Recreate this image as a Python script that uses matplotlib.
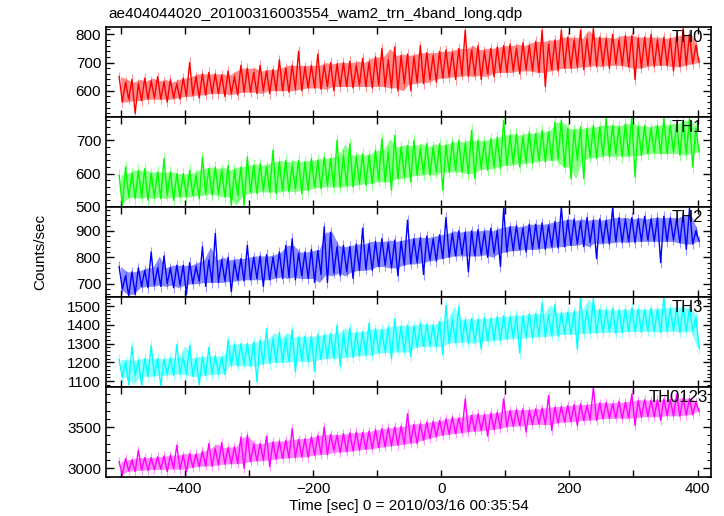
import numpy as np
import matplotlib
matplotlib.use("Agg")
import matplotlib.pyplot as plt
from matplotlib.ticker import MultipleLocator

plt.rcParams['font.family'] = ['Liberation Sans', 'DejaVu Sans']

# bin centres [sec], 10 s bins
time = list(range(-500, 401, 10))

# upper / lower excursion of the count rate inside each bin
th0_hi = [650, 630, 640, 625, 645, 635, 650, 630, 640, 625,
          645, 700, 650, 660, 665, 660, 655, 670, 650, 690,
          680, 665, 690, 670, 675, 710, 680, 690, 740, 685,
          690, 730, 690, 700, 695, 700, 705, 690, 715, 700,
          720, 750, 710, 755, 725, 730, 720, 760, 735, 725,
          740, 745, 735, 750, 815, 745, 760, 740, 750, 755,
          760, 765, 750, 770, 760, 775, 815, 765, 780, 815,
          790, 780, 815, 785, 820, 790, 785, 800, 780, 795,
          795, 785, 790, 800, 780, 790, 785, 795, 820, 800, 760]
th0_lo = [560, 570, 520, 565, 570, 575, 570, 560, 575, 570,
          580, 585, 575, 585, 590, 590, 580, 590, 585, 595,
          595, 590, 600, 590, 600, 600, 595, 605, 600, 610,
          610, 605, 615, 600, 615, 615, 610, 620, 615, 610,
          620, 615, 610, 600, 625, 600, 630, 625, 640, 630,
          645, 650, 640, 655, 650, 655, 640, 660, 650, 665,
          665, 670, 660, 675, 670, 665, 615, 675, 670, 680,
          680, 685, 675, 690, 685, 690, 680, 695, 690, 685,
          640, 680, 690, 685, 690, 690, 670, 685, 690, 695, 700]

th1_hi = [595, 620, 600, 610, 615, 600, 605, 645, 605, 600,
          600, 610, 595, 650, 615, 620, 610, 625, 610, 620,
          650, 625, 630, 620, 670, 635, 640, 625, 640, 635,
          645, 640, 650, 645, 700, 655, 690, 650, 660, 655,
          670, 705, 665, 715, 680, 685, 700, 675, 690, 680,
          690, 685, 695, 700, 690, 730, 700, 695, 705, 710,
          760, 715, 720, 710, 725, 720, 730, 725, 755, 760,
          735, 730, 740, 735, 745, 740, 765, 745, 740, 750,
          770, 740, 745, 735, 745, 765, 745, 750, 760, 765, 735]
th1_lo = [505, 530, 525, 530, 520, 530, 525, 535, 520, 530,
          530, 535, 525, 540, 535, 540, 530, 505, 535, 505,
          545, 540, 550, 545, 540, 550, 545, 555, 540, 550,
          560, 555, 565, 560, 560, 565, 560, 570, 565, 570,
          580, 575, 550, 585, 590, 575, 595, 600, 595, 605,
          550, 605, 610, 605, 600, 585, 615, 610, 620, 615,
          625, 630, 620, 635, 630, 640, 635, 640, 645, 620,
          585, 640, 585, 650, 645, 655, 650, 660, 650, 655,
          590, 655, 660, 665, 660, 660, 665, 655, 660, 620, 665]

th2_hi = [765, 730, 745, 760, 750, 820, 760, 805, 760, 770,
          770, 780, 765, 840, 790, 890, 790, 800, 785, 795,
          845, 800, 805, 810, 800, 820, 845, 870, 815, 820,
          830, 825, 915, 895, 840, 845, 840, 850, 910, 850,
          860, 870, 855, 865, 860, 940, 870, 875, 880, 870,
          885, 950, 890, 900, 895, 900, 905, 895, 910, 900,
          985, 915, 920, 910, 925, 925, 930, 920, 935, 990,
          940, 945, 935, 950, 940, 945, 940, 985, 950, 945,
          950, 945, 955, 945, 950, 955, 950, 945, 960, 985, 900]
th2_lo = [680, 655, 660, 690, 685, 695, 690, 700, 685, 695,
          660, 700, 710, 690, 705, 705, 710, 670, 715, 710,
          715, 720, 690, 715, 725, 720, 725, 715, 730, 720,
          705, 735, 705, 740, 730, 745, 720, 750, 755, 750,
          765, 770, 760, 730, 770, 775, 780, 735, 790, 785,
          795, 800, 805, 810, 745, 805, 810, 800, 815, 765,
          820, 825, 830, 820, 830, 835, 830, 840, 835, 840,
          845, 850, 840, 855, 795, 855, 850, 860, 855, 860,
          855, 860, 865, 860, 780, 860, 865, 855, 830, 850, 860]

th3_hi = [1215, 1200, 1285, 1210, 1220, 1290, 1220, 1215, 1225, 1295,
          1225, 1290, 1220, 1230, 1280, 1235, 1225, 1320, 1295, 1300,
          1300, 1310, 1320, 1380, 1325, 1360, 1330, 1375, 1335, 1340,
          1340, 1350, 1345, 1355, 1400, 1355, 1385, 1360, 1365, 1410,
          1380, 1375, 1390, 1435, 1395, 1400, 1395, 1410, 1405, 1400,
          1420, 1505, 1430, 1500, 1425, 1435, 1430, 1440, 1435, 1445,
          1450, 1445, 1455, 1450, 1460, 1460, 1520, 1455, 1510, 1465,
          1470, 1475, 1545, 1480, 1540, 1485, 1480, 1490, 1480, 1485,
          1490, 1485, 1480, 1490, 1485, 1545, 1490, 1495, 1500, 1490, 1440]
th3_lo = [1120, 1080, 1130, 1080, 1125, 1130, 1075, 1135, 1130, 1140,
          1135, 1125, 1080, 1130, 1135, 1140, 1135, 1185, 1180, 1190,
          1180, 1095, 1190, 1195, 1200, 1200, 1205, 1150, 1210, 1205,
          1150, 1215, 1220, 1225, 1180, 1230, 1225, 1235, 1240, 1235,
          1250, 1255, 1220, 1260, 1255, 1230, 1280, 1285, 1290, 1285,
          1240, 1300, 1305, 1310, 1300, 1310, 1270, 1315, 1320, 1315,
          1325, 1330, 1250, 1335, 1330, 1340, 1335, 1345, 1340, 1350,
          1350, 1270, 1355, 1360, 1355, 1360, 1365, 1355, 1360, 1365,
          1365, 1360, 1370, 1365, 1360, 1365, 1370, 1360, 1365, 1370, 1275]

th0123_hi = [3080, 3120, 3100, 3220, 3130, 3130, 3140, 3150, 3160, 3280,
             3160, 3180, 3175, 3210, 3300, 3240, 3310, 3250, 3260, 3380,
             3400, 3290, 3300, 3390, 3320, 3330, 3340, 3480, 3350, 3360,
             3380, 3400, 3500, 3410, 3400, 3420, 3430, 3440, 3435, 3450,
             3470, 3480, 3490, 3500, 3510, 3660, 3530, 3540, 3560, 3570,
             3580, 3600, 3620, 3610, 3840, 3640, 3660, 3650, 3670, 3680,
             3840, 3700, 3710, 3720, 3700, 3720, 3730, 3880, 3740, 3750,
             3760, 3770, 3780, 3760, 3980, 3790, 3800, 3780, 3810, 3800,
             3900, 3820, 3830, 3825, 3830, 3840, 3835, 3900, 3850, 3845, 3800]
th0123_lo = [2920, 2970, 2960, 2980, 2975, 2985, 2990, 2960, 3000, 2990,
             2960, 3010, 3020, 3030, 3025, 3040, 3050, 3055, 3060, 3000,
             3080, 3090, 3100, 3020, 3110, 3120, 3125, 3130, 3140, 3135,
             3160, 3170, 3165, 3220, 3190, 3200, 3210, 3220, 3230, 3235,
             3250, 3260, 3270, 3280, 3290, 3310, 3300, 3340, 3360, 3380,
             3400, 3410, 3420, 3430, 3440, 3450, 3460, 3390, 3470, 3480,
             3500, 3510, 3520, 3440, 3530, 3540, 3530, 3460, 3550, 3560,
             3570, 3520, 3580, 3590, 3580, 3600, 3605, 3610, 3600, 3615,
             3520, 3620, 3630, 3625, 3580, 3640, 3635, 3630, 3645, 3650, 3690]

bands = ["TH0", "TH1", "TH2", "TH3", "TH0123"]
highs = [th0_hi, th1_hi, th2_hi, th3_hi, th0123_hi]
lows = [th0_lo, th1_lo, th2_lo, th3_lo, th0123_lo]
errs = [18, 18, 20, 28, 55]

colors = ["#ff0000", "#00ff00", "#0000ff", "#00ffff", "#ff00ff"]
ylims = [(507, 826), (500, 770), (650, 990), (1068, 1550), (2895, 3985)]
ymajor = [100, 100, 100, 100, 500]
yminor = [20, 20, 20, 20, 100]
label_x = [0.987, 0.987, 0.987, 0.987, 0.995]


def median3(v):
    # running median over 3 bins, so single spikes stay thin lines
    p = np.concatenate([v[:1], v, v[-1:]])
    return np.median(np.vstack([p[:-2], p[1:-1], p[2:]]), axis=0)


fig, axes = plt.subplots(5, 1, sharex=True, figsize=(7.24, 5.16), dpi=100)
fig.subplots_adjust(left=0.1464, right=0.982, top=0.9477, bottom=0.0756, hspace=0)

t = np.array(time, dtype=float)
for ax, name, hi, lo, err, c, yl, ma, mi, lx in zip(
        axes, bands, highs, lows, errs, colors, ylims, ymajor, yminor, label_x):
    hi = np.array(hi, dtype=float)
    lo = np.array(lo, dtype=float)
    x = np.column_stack([t - 2.5, t + 2.5]).ravel()
    y = np.column_stack([hi, lo]).ravel()
    ax.fill_between(t, median3(lo), median3(hi), color=c, alpha=0.45, lw=0)
    ax.errorbar(x, y, yerr=err, fmt='none', ecolor=c, alpha=0.4, elinewidth=0.8)
    ax.plot(x, y, color=c, lw=1.0)
    ax.set_ylim(yl)
    ax.set_xlim(-523, 421)
    ax.yaxis.set_major_locator(MultipleLocator(ma))
    ax.yaxis.set_minor_locator(MultipleLocator(mi))
    ax.xaxis.set_major_locator(MultipleLocator(200))
    ax.xaxis.set_minor_locator(MultipleLocator(100))
    ax.tick_params(which='both', direction='in', top=True, right=True, labelsize=11)
    ax.tick_params(axis='y', which='major', length=6, width=1)
    ax.tick_params(axis='y', which='minor', length=3, width=0.8)
    ax.tick_params(axis='x', which='major', length=5, width=1)
    ax.tick_params(axis='x', which='minor', length=5, width=1)
    for s in ax.spines.values():
        s.set_linewidth(1.2)
    ax.text(lx, 0.88, name, transform=ax.transAxes, ha='right', va='center', fontsize=12)

axes[-1].set_xlabel("Time [sec] 0 = 2010/03/16 00:35:54", fontsize=11, labelpad=2)
fig.text(0.055, 0.512, "Counts/sec", rotation=90, ha='center', va='center', fontsize=11)
fig.text(108 / 724, 1 - 14 / 516, "ae404044020_20100316003554_wam2_trn_4band_long.qdp",
         ha='left', va='center', fontsize=11)

fig.savefig("out.png", dpi=100)
